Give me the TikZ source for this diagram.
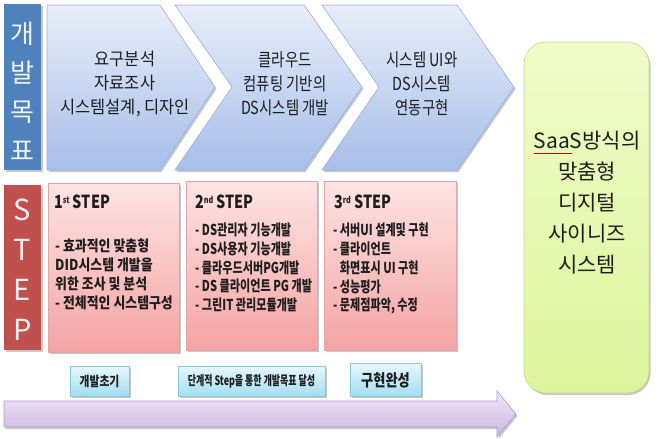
\documentclass[tikz,border=0pt]{standalone}
\usepackage{fontspec}
\setmainfont{Noto Sans CJK KR}
\newfontfamily\krA[FakeStretch=0.94]{Noto Sans CJK KR}
\newfontfamily\krB[FakeStretch=0.8]{Noto Sans CJK KR}
\newfontfamily\krD[FakeStretch=0.86]{Noto Sans CJK KR}
\newfontfamily\krC[FakeStretch=0.74]{Noto Sans CJK KR}
\usetikzlibrary{shadows}
\definecolor{barblue}{HTML}{4F81BD}
\definecolor{barred}{HTML}{C0504D}
\definecolor{chevT}{HTML}{E8EEF9}
\definecolor{chevB}{HTML}{A6BEE9}
\definecolor{chevD}{HTML}{9AB2DC}
\definecolor{pinkT}{HTML}{FDE4E4}
\definecolor{pinkB}{HTML}{F4A3A3}
\definecolor{pinkD}{HTML}{E6A3A3}
\definecolor{cyT}{HTML}{E6F7FC}
\definecolor{cyB}{HTML}{A3DEF1}
\definecolor{cyD}{HTML}{86C8DE}
\definecolor{lavT}{HTML}{EFE6F8}
\definecolor{lavB}{HTML}{CBB6E0}
\definecolor{lavD}{HTML}{B39DCD}
\definecolor{grT}{HTML}{EFFBC8}
\definecolor{grB}{HTML}{DEF59C}
\definecolor{grD}{HTML}{C2DB8E}
\definecolor{txt}{HTML}{1E1E1E}
\tikzset{
  shad/.style={drop shadow={shadow xshift=1.5pt, shadow yshift=-2pt, opacity=0.22, fill=black}},
  chev/.style={draw=chevD, line width=0.6pt, top color=chevT, bottom color=chevB, shad},
  pinkbox/.style={draw=pinkD, line width=0.6pt, top color=pinkT, bottom color=pinkB, shad},
  cybox/.style={draw=cyD, line width=0.6pt, top color=cyT, bottom color=cyB, shad},
  lavarrow/.style={draw=lavD, line width=0.6pt, top color=lavT, bottom color=lavB, shad},
  greenbox/.style={draw=grD, line width=0.6pt, top color=grT, bottom color=grB, rounded corners=22pt, shad},
  sidebar/.style={line width=0pt, shad},
  ctextA/.style={text=txt, align=center, font=\krA\fontsize{17.5}{24}\selectfont, inner sep=0pt},
  ctextB/.style={text=txt, align=center, font=\krB\fontsize{18}{24}\selectfont, inner sep=0pt},
  sidetext/.style={align=center, inner sep=0pt},
  stephead/.style={text=txt, anchor=west, inner sep=0pt, font=\krB\bfseries\fontsize{18}{20}\selectfont},
  bul/.style={text=txt, anchor=north west, align=left, inner sep=0pt},
  lbl/.style={text=txt, inner sep=0pt},
}
\begin{document}
\begin{tikzpicture}[x=1pt,y=-1pt]
\useasboundingbox (0,0) rectangle (667,439);
\fill[white] (0,0) rectangle (667,439);

% side bars
\fill[barblue, sidebar] (4,4) rectangle (41,170);
\fill[barred, sidebar] (4,185) rectangle (41,350);
\node[sidetext, text=white!90!barblue, font=\fontsize{26}{39}\selectfont] (goal) at (22.5,91) {개\\발\\목\\표};
\node[sidetext, text=white!90!barred, font=\fontsize{29}{40}\selectfont] (stepv) at (22.5,270) {S\\T\\E\\P};

% chevrons
\path[chev] (47,5) -- (160,5) -- (215,87) -- (160,170) -- (47,170) -- cycle;
\path[chev] (175,5) -- (304,5) -- (362,87) -- (304,170) -- (175,170) -- (232,87) -- cycle;
\path[chev] (322,5) -- (457,5) -- (514,87) -- (457,170) -- (322,170) -- (379,87) -- cycle;
\node[ctextA] (c1) at (125,84) {요구분석\\자료조사\\시스템설계, 디자인};
\node[ctextB] (c2) at (285,84) {클라우드\\컴퓨팅 기반의\\DS시스템 개발};
\node[ctextB] (c3) at (422,84) {시스템 UI와\\DS시스템\\연동구현};

% step boxes
\path[pinkbox] (48,183) rectangle (179,352);
\path[pinkbox] (186,181) rectangle (317,350);
\path[pinkbox] (324,181) rectangle (456,350);
\node[stephead] (h1) at (54,202) {1\raisebox{0.55ex}{\fontsize{9}{9}\selectfont st} STEP};
\node[stephead] (h2) at (195,202) {2\raisebox{0.55ex}{\fontsize{9}{9}\selectfont nd} STEP};
\node[stephead] (h3) at (334,202) {3\raisebox{0.55ex}{\fontsize{9}{9}\selectfont rd} STEP};

\node[bul, font=\krD\bfseries\fontsize{15}{18.7}\selectfont] (b1) at (55,239)
  {- 효과적인 맞춤형\\DID시스템 개발을\\위한 조사 및 분석\\- 전체적인 시스템구성};
\node[bul, font=\krC\bfseries\fontsize{15}{18.7}\selectfont] (b2) at (195,223)
  {- DS관리자 기능개발\\- DS사용자 기능개발\\- 클라우드서버PG개발\\- DS 클라이언트 PG 개발\\- 그린IT 관리모듈개발};
\node[bul, font=\krC\bfseries\fontsize{15}{18.7}\selectfont] (b3) at (333,223)
  {- 서버UI 설계및 구현\\- 클라이언트\\\hspace*{0.45em}화면표시 UI 구현\\- 성능평가\\- 문제점파악, 수정};

% green result box
\path[greenbox] (524,42) rectangle (649,393);
\node[sidetext, text=txt, font=\fontsize{21}{31}\selectfont] (res) at (587,203)
  {SaaS방식의\\맞춤형\\디지털\\사이니즈\\시스템};
\coordinate (ulA) at (534,153);
\coordinate (ulB) at (572,153);
\draw[red!80!black, line width=0.7pt] (ulA) -- (ulB);

% bottom arrow
\path[lavarrow] (4,401) -- (497,401) -- (497,391) -- (516,414) -- (497,437) -- (497,427) -- (4,427) -- cycle;

% labels
\path[cybox] (70,366) rectangle (129,396);
\path[cybox] (178,366) rectangle (325,396);
\path[cybox] (350,363) rectangle (421,396);
\node[lbl, font=\krB\bfseries\fontsize{13.5}{15}\selectfont] (l1) at (99.5,381) {개발초기};
\node[lbl, font=\krC\bfseries\fontsize{13}{15}\selectfont, xscale=0.93] (l2) at (251.5,381) {단계적 Step을 통한 개발목표 달성};
\node[lbl, font=\krB\bfseries\fontsize{16.5}{18}\selectfont] (l3) at (385.5,380) {구현완성};
\end{tikzpicture}
\end{document}
